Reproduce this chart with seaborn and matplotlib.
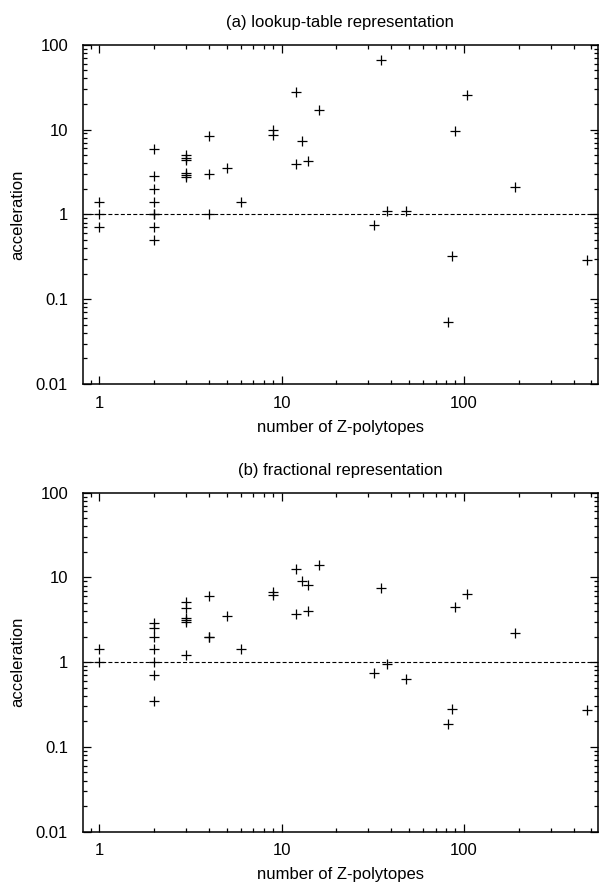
import matplotlib
matplotlib.use("Agg")
import numpy as np
import pandas as pd
import seaborn as sns
import matplotlib.pyplot as plt
from matplotlib.ticker import LogLocator, FixedLocator, FixedFormatter, NullFormatter

# ---- data ----
top_n = [1, 1, 1,
         2, 2, 2, 2, 2, 2, 2, 2,
         3, 3, 3, 3, 3, 3,
         4, 4, 4,
         5, 6, 9, 9, 12, 12, 13, 14, 16,
         32, 35, 38, 48, 82, 86, 90, 104, 191, 472]
top_acc = [1.40, 1.0, 0.71,
           5.97, 2.84, 1.97, 1.40, 1.0, 1.0, 0.70, 0.50,
           4.97, 4.67, 4.34, 3.08, 2.94, 2.79,
           8.5, 2.99, 1.0,
           3.55, 1.40, 10.0, 8.7, 27.8, 3.97, 7.33, 4.26, 16.9,
           0.74, 65.3, 1.11, 1.11, 0.054, 0.325, 9.55, 25.6, 2.10, 0.29]

bot_n = [1, 1,
         2, 2, 2, 2, 2, 2, 2,
         3, 3, 3, 3, 3, 3,
         4, 4, 4,
         5, 6, 9, 9, 12, 12, 13, 14, 14, 16,
         32, 35, 38, 48, 82, 86, 90, 104, 191, 472]
bot_acc = [1.42, 1.0,
           2.87, 2.55, 2.0, 1.42, 1.0, 0.70, 0.35,
           5.16, 4.39, 3.34, 3.14, 2.95, 1.21,
           6.08, 2.0, 2.0,
           3.53, 1.42, 6.78, 6.2, 12.5, 3.70, 9.14, 8.07, 4.04, 14.1,
           0.75, 7.43, 0.94, 0.64, 0.184, 0.277, 4.5, 6.42, 2.19, 0.272]

titles = ["(a) lookup-table representation", "(b) fractional representation"]
xlabel = "number of Z-polytopes"
ylabel = "acceleration"
yticks = [0.01, 0.1, 1, 10, 100]
ytick_labels = ["0.01", "0.1", "1", "10", "100"]
xticks = [1, 10, 100]
xtick_labels = ["1", "10", "100"]

sns.set_theme(style="ticks")
plt.rcParams["font.family"] = ["Liberation Sans", "DejaVu Sans"]
plt.rcParams["text.color"] = "black"
plt.rcParams["axes.labelcolor"] = "black"
plt.rcParams["xtick.color"] = "black"
plt.rcParams["ytick.color"] = "black"
FS = 12

W, H = 608, 884
fig = plt.figure(figsize=(W / 100, H / 100), dpi=100)
fig.patch.set_facecolor("white")

# axes boxes in pixels: left, top, right, bottom
boxes = [(82.7, 44.7, 598, 384.0), (82.7, 492.7, 598, 831.5)]
datasets = [(top_n, top_acc), (bot_n, bot_acc)]

for (l, t, r, b), (xs, ys), title in zip(boxes, datasets, titles):
    ax = fig.add_axes([l / W, 1 - b / H, (r - l) / W, (b - t) / H])
    df = pd.DataFrame({"n": xs, "acc": ys})
    sns.scatterplot(data=df, x="n", y="acc", marker="+", color="black",
                    s=50, linewidth=0.9, ax=ax, legend=False, zorder=3)
    ax.axhline(1.0, color="black", lw=0.8, ls=(0, (3.6, 2.0)), zorder=2)
    ax.set_xscale("log")
    ax.set_yscale("log")
    ax.set_xlim(0.811, 545)
    ax.set_ylim(0.01, 100)
    ax.xaxis.set_major_locator(FixedLocator(xticks))
    ax.xaxis.set_major_formatter(FixedFormatter(xtick_labels))
    ax.xaxis.set_minor_locator(LogLocator(base=10, subs=np.arange(2, 10)))
    ax.xaxis.set_minor_formatter(NullFormatter())
    ax.yaxis.set_major_locator(FixedLocator(yticks))
    ax.yaxis.set_major_formatter(FixedFormatter(ytick_labels))
    ax.yaxis.set_minor_locator(LogLocator(base=10, subs=np.arange(2, 10)))
    ax.yaxis.set_minor_formatter(NullFormatter())
    ax.tick_params(which="both", direction="in", top=True, right=True,
                   width=0.9, colors="black", labelcolor="black", labelsize=FS)
    ax.tick_params(which="major", length=5.5)
    ax.tick_params(which="minor", length=2.8)
    ax.tick_params(axis="x", which="major", pad=8.5)
    ax.tick_params(axis="y", which="major", pad=10.5)
    for sp in ax.spines.values():
        sp.set_visible(True)
        sp.set_linewidth(1.1)
        sp.set_color("black")
    ax.set_facecolor("white")
    ax.grid(False)
    ax.set_xlabel(xlabel, fontsize=FS, color="black")
    ax.set_ylabel(ylabel, fontsize=FS, color="black")
    ax.xaxis.set_label_coords(0.5, -0.106)
    ax.yaxis.set_label_coords(-0.112, 0.5)
    ax.set_title(title, fontsize=FS, pad=13, color="black")

fig.savefig("out.png", dpi=100, facecolor="white")
